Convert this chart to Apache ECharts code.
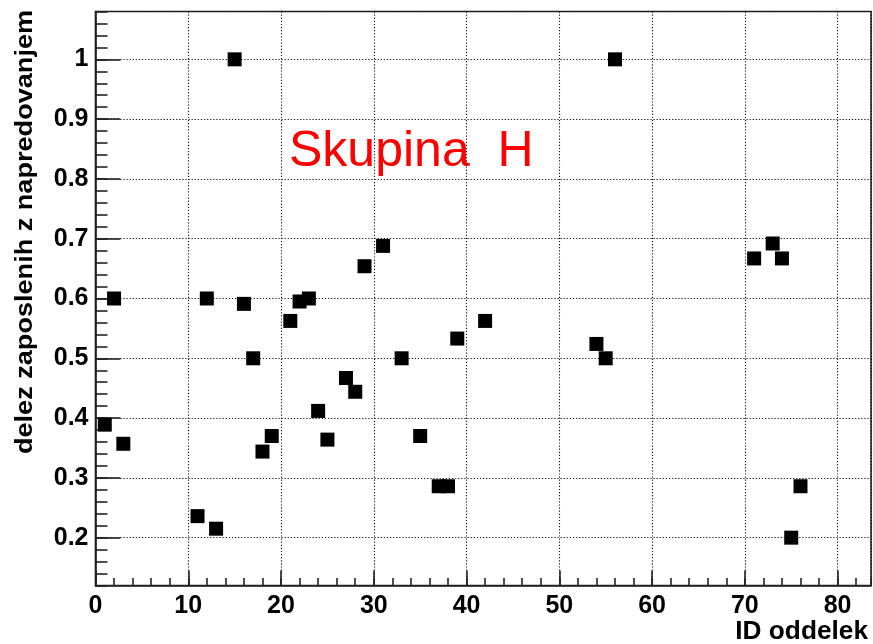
<!DOCTYPE html>
<html>
<head>
<meta charset="utf-8">
<title>Skupina H</title>
<script src="https://cdn.jsdelivr.net/npm/echarts@6/dist/echarts.min.js"></script>
<style>
    html, body { margin: 0; padding: 0; background: #fff; }
    #chart { width: 873px; height: 644px; }
</style>
</head>
<body>
<div id="chart"></div>
<script>
// ID oddelka
var ids = [1, 2, 3, 11, 12, 13, 15, 16, 17, 18, 19, 21, 22, 23, 24, 25, 27, 28, 29, 31, 33, 35, 37, 38, 39, 42, 54, 55, 56, 71, 73, 74, 75, 76];
// delez zaposlenih z napredovanjem
var shares = [0.389, 0.6, 0.357, 0.236, 0.6, 0.215, 1.0, 0.591, 0.5, 0.344, 0.37, 0.5625, 0.595, 0.6, 0.412, 0.364, 0.467, 0.444, 0.654, 0.688, 0.5, 0.37, 0.286, 0.286, 0.533, 0.5625, 0.524, 0.5, 1.0, 0.667, 0.692, 0.667, 0.2, 0.286];
var xRange = [0, 83.6];
var yRange = [0.12, 1.08];
var groupTitle = 'Skupina  H';
var xTitle = 'ID oddelek';
var yTitle = 'delez zaposlenih z napredovanjem';

var myChart;
var font = '"Liberation Sans", Arial, Helvetica, sans-serif';

/*====================podatki====================*/
var points = [];
for (var i = 0; i < ids.length; i++) {
    points.push([ids[i], shares[i]]);
}

/*====================echart====================*/
myChart = echarts.init(document.getElementById('chart'));
var dotted = {
    type: [1.2, 1.9],
    color: '#111',
    width: 1.1
};
var tickLine = { color: '#222', width: 1.6 };
var option = {
    animation: false,
    backgroundColor: '#fff',
    grid: {
        left: 95.5,
        top: 11.5,
        right: 2,
        bottom: 58.5,
        show: true,
        borderColor: '#222',
        borderWidth: 1.6,
        backgroundColor: 'transparent'
    },
    xAxis: [{ // glavne oznake
        type: 'value',
        position: 'bottom',
        min: xRange[0],
        max: xRange[1],
        interval: 10,
        axisLine: { show: true, lineStyle: tickLine },
        axisTick: { show: true, inside: true, length: 15, lineStyle: tickLine },
        axisLabel: {
            show: true,
            showMaxLabel: false,
            margin: 8,
            color: '#000',
            fontSize: 25,
            fontWeight: 'bold',
            fontFamily: font
        },
        splitLine: { show: true, lineStyle: dotted }
    }, { // pomozne oznake
        type: 'value',
        position: 'bottom',
        offset: 0,
        min: xRange[0],
        max: xRange[1],
        interval: 2,
        axisLine: { show: false },
        axisTick: { show: true, inside: true, length: 7.5, lineStyle: tickLine },
        axisLabel: { show: false },
        splitLine: { show: false }
    }],
    yAxis: [{
        type: 'value',
        position: 'left',
        min: yRange[0],
        max: yRange[1],
        splitNumber: 10, // da korak 0.1
        axisLine: { show: true, lineStyle: tickLine },
        axisTick: { show: true, inside: true, length: 25, lineStyle: tickLine },
        axisLabel: {
            show: true,
            showMinLabel: false,
            showMaxLabel: false,
            margin: 7,
            color: '#000',
            fontSize: 25,
            fontWeight: 'bold',
            fontFamily: font
        },
        splitLine: { show: true, lineStyle: dotted }
    }, {
        type: 'value',
        position: 'left',
        offset: 0,
        min: yRange[0],
        max: yRange[1],
        interval: 0.02,
        axisLine: { show: false },
        axisTick: { show: true, inside: true, length: 12, lineStyle: tickLine },
        axisLabel: { show: false },
        splitLine: { show: false }
    }],
    graphic: [{
        type: 'text',
        x: 289,
        y: 152,
        style: {
            text: groupTitle,
            fill: '#ff0000',
            font: '50px ' + font,
            textAlign: 'left',
            textVerticalAlign: 'middle',
            shadowColor: 'rgba(0,0,0,0.35)',
            shadowBlur: 2,
            shadowOffsetX: 1.5,
            shadowOffsetY: 1.5
        }
    }, {
        type: 'text',
        x: 868,
        y: 632,
        style: {
            text: xTitle,
            fill: '#000',
            font: 'bold 25px ' + font,
            textAlign: 'right',
            textVerticalAlign: 'middle'
        },
        scaleX: 1.05
    }, {
        type: 'text',
        x: 25.5,
        y: 232,
        rotation: Math.PI / 2,
        scaleX: 1.178,
        style: {
            text: yTitle,
            fill: '#000',
            font: 'bold 23px ' + font,
            textAlign: 'center',
            textVerticalAlign: 'middle'
        }
    }],
    series: [{
        name: 'Skupina H',
        type: 'scatter',
        xAxisIndex: 0,
        yAxisIndex: 0,
        symbol: 'rect',
        symbolSize: 14,
        itemStyle: {
            color: '#000',
            opacity: 1
        },
        data: points
    }]
};
myChart.setOption(option);
</script>
</body>
</html>
